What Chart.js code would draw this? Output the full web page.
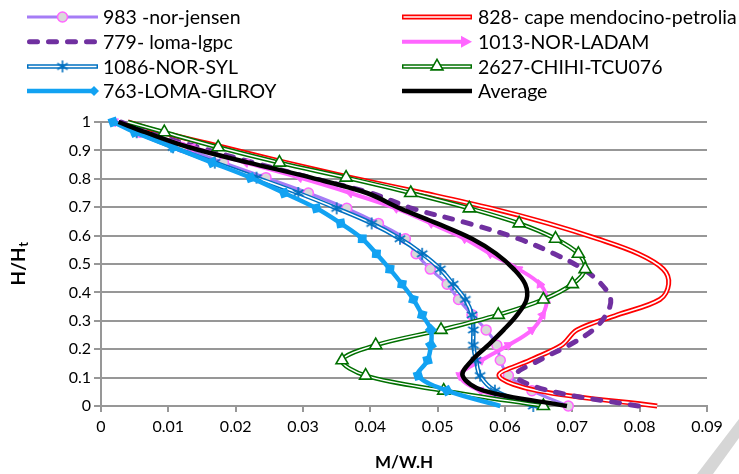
<!DOCTYPE html>
<html>
<head>
<meta charset="utf-8">
<script src="https://cdn.jsdelivr.net/npm/chart.js@4.4.0/dist/chart.umd.min.js"></script>
<style>
  html, body { margin: 0; padding: 0; background: #fff; }
  #chart { display: block; }
</style>
</head>
<body>
<canvas id="chart" width="739" height="474"></canvas>
<script>
// relative height H/Ht of each storey level (y axis)
const heights = [0, 0.054, 0.107, 0.161, 0.214, 0.268, 0.321, 0.375, 0.429, 0.482,
                 0.536, 0.589, 0.643, 0.696, 0.75, 0.804, 0.857, 0.911, 0.964, 1];

// M/W.H for each record, same order as heights
const norJensen983 = [0.0694, 0.0640, 0.0605, 0.0593, 0.0588, 0.0572, 0.0551, 0.0531, 0.0514, 0.0489,
                      0.0468, 0.0452, 0.0412, 0.0365, 0.0308, 0.0245, 0.0182, 0.0120, 0.0058, 0.0020];
const capeMendocino828 = [0.0826, 0.0648, 0.0591, 0.0637, 0.0684, 0.0707, 0.0767, 0.0830, 0.0843, 0.0835,
                          0.0798, 0.0737, 0.0664, 0.0580, 0.0479, 0.0372, 0.0275, 0.0182, 0.0090, 0.0040];
const lomaLgpc779 = [0.0798, 0.0665, 0.0616, 0.0651, 0.0695, 0.0731, 0.0750, 0.0757, 0.0743, 0.0716,
                     0.0673, 0.0620, 0.0546, 0.0462, 0.0401, 0.0311, 0.0226, 0.0145, 0.0068, 0.0030];
const norLadam1013 = [0.0655, 0.0563, 0.0533, 0.0565, 0.0605, 0.0640, 0.0656, 0.0662, 0.0652, 0.0620,
                      0.0578, 0.0540, 0.0490, 0.0438, 0.0370, 0.0295, 0.0215, 0.0135, 0.0062, 0.0020];
const norSyl1086 = [0.0642, 0.0585, 0.0563, 0.0557, 0.0553, 0.0553, 0.0551, 0.0541, 0.0523, 0.0504,
                    0.0477, 0.0444, 0.0402, 0.0350, 0.0293, 0.0231, 0.0169, 0.0107, 0.0053, 0.0020];
const chichiTcu076 = [0.0657, 0.0509, 0.0393, 0.0358, 0.0408, 0.0505, 0.0590, 0.0657, 0.0700, 0.0719,
                      0.0709, 0.0675, 0.0621, 0.0547, 0.0460, 0.0364, 0.0265, 0.0174, 0.0094, 0.0040];
const lomaGilroy763 = [0.0593, 0.0514, 0.0471, 0.0485, 0.0490, 0.0490, 0.0477, 0.0464, 0.0447, 0.0429,
                       0.0409, 0.0388, 0.0356, 0.0320, 0.0272, 0.0222, 0.0165, 0.0107, 0.0050, 0.0018];
const average = [0.0692, 0.0568, 0.0537, 0.0551, 0.0575, 0.0598, 0.0618, 0.0632, 0.0630, 0.0613,
                 0.0587, 0.0551, 0.0499, 0.0444, 0.0395, 0.0312, 0.0219, 0.0131, 0.0066, 0.0026];

const xTicks = [0, 0.01, 0.02, 0.03, 0.04, 0.05, 0.06, 0.07, 0.08, 0.09];
const yTicks = [0, 0.1, 0.2, 0.3, 0.4, 0.5, 0.6, 0.7, 0.8, 0.9, 1];

const FONT = 'Lato';
const GRID = '#979797';
const LAST = heights.length - 1;

function pts(xs) {
  return xs.map((x, i) => ({ x: x, y: heights[i] }));
}

// asterisk marker, used for the NOR-SYL series
function asterisk(r, color) {
  const c = document.createElement('canvas');
  c.width = c.height = r * 2 + 4;
  const g = c.getContext('2d');
  const m = r + 2;
  g.strokeStyle = color;
  g.lineWidth = 1.6;
  g.beginPath();
  g.moveTo(m, m - r); g.lineTo(m, m + r);
  g.moveTo(m - r * 0.87, m - r * 0.5); g.lineTo(m + r * 0.87, m + r * 0.5);
  g.moveTo(m - r * 0.87, m + r * 0.5); g.lineTo(m + r * 0.87, m - r * 0.5);
  g.stroke();
  return c;
}
const starMark = asterisk(6, '#0070C0');

// arrow heads follow the segment that ends at each point
function segAngle(c) {
  const d = c.dataset.data, i = c.dataIndex;
  if (!i || !d[i]) return 0;
  const xs = c.chart.scales.x, ys = c.chart.scales.y;
  const dx = xs.getPixelForValue(d[i].x) - xs.getPixelForValue(d[i - 1].x);
  const dy = ys.getPixelForValue(d[i].y) - ys.getPixelForValue(d[i - 1].y);
  return Math.atan2(dx, -dy) * 180 / Math.PI;
}

const base = { showLine: true, tension: 0.35, clip: false, pointRadius: 0, fill: false };

const datasets = [
  Object.assign({}, base, { label: '983 -nor-jensen', data: pts(norJensen983), order: 80,
    borderColor: '#A57CF6', borderWidth: 3, pointStyle: 'circle',
    pointRadius: c => c.dataIndex === LAST ? 0 : 5,
    pointBackgroundColor: '#D9D9D9', pointBorderColor: '#FF66FF', pointBorderWidth: 1.5 }),
  Object.assign({}, base, { label: '828- cape mendocino-petrolia', data: pts(capeMendocino828), order: 70,
    borderColor: '#FF0000', borderWidth: 5 }),
  Object.assign({}, base, { label: '_828 inner', data: pts(capeMendocino828), order: 69,
    borderColor: '#FFFFFF', borderWidth: 1.6 }),
  Object.assign({}, base, { label: '779- loma-lgpc', data: pts(lomaLgpc779), order: 60,
    borderColor: '#7030A0', borderWidth: 5, borderDash: [8, 11], borderCapStyle: 'round' }),
  Object.assign({}, base, { label: '1013-NOR-LADAM', data: pts(norLadam1013), order: 50,
    borderColor: '#FF66FF', borderWidth: 4, pointStyle: 'triangle',
    pointRadius: c => c.dataIndex === 0 ? 0 : 5, rotation: segAngle,
    pointBackgroundColor: '#FF66FF', pointBorderColor: '#FF66FF', pointBorderWidth: 1 }),
  Object.assign({}, base, { label: '1086-NOR-SYL', data: pts(norSyl1086), order: 40,
    borderColor: '#0070C0', borderWidth: 4.5 }),
  Object.assign({}, base, { label: '_1086 inner', data: pts(norSyl1086), order: 39,
    borderColor: '#FFFFFF', borderWidth: 1.5, pointStyle: starMark,
    pointRadius: c => c.dataIndex === LAST ? 0 : 6 }),
  Object.assign({}, base, { label: '2627-CHIHI-TCU076', data: pts(chichiTcu076), order: 30,
    borderColor: '#007000', borderWidth: 4.5 }),
  Object.assign({}, base, { label: '_2627 inner', data: pts(chichiTcu076), order: 29,
    borderColor: '#FFFFFF', borderWidth: 1.5, pointStyle: 'triangle',
    pointRadius: c => c.dataIndex === LAST ? 0 : 7,
    pointBackgroundColor: '#FFFFFF', pointBorderColor: '#007000', pointBorderWidth: 1.6 }),
  Object.assign({}, base, { label: '763-LOMA-GILROY', data: pts(lomaGilroy763), order: 20,
    borderColor: '#12A2F2', borderWidth: 4.5, pointStyle: 'rectRot',
    pointRadius: c => c.dataIndex === 0 ? 0 : 3, rotation: segAngle,
    pointBackgroundColor: '#12A2F2', pointBorderColor: '#12A2F2' }),
  Object.assign({}, base, { label: 'Average', data: pts(average), order: 10,
    borderColor: '#000000', borderWidth: 4.5 })
];

// legend, two columns in the order of the series
const legendSeries = [
  { text: '983 -nor-jensen', kind: 'jensen' },
  { text: '828- cape mendocino-petrolia', kind: 'red' },
  { text: '779- loma-lgpc', kind: 'dash' },
  { text: '1013-NOR-LADAM', kind: 'arrow' },
  { text: '1086-NOR-SYL', kind: 'syl' },
  { text: '2627-CHIHI-TCU076', kind: 'green' },
  { text: '763-LOMA-GILROY', kind: 'diamond' },
  { text: 'Average', kind: 'avg' }
];

function strokeLine(ctx, x0, x1, y, color, w) {
  ctx.beginPath();
  ctx.moveTo(x0, y); ctx.lineTo(x1, y);
  ctx.strokeStyle = color; ctx.lineWidth = w;
  ctx.stroke();
}

function drawSymbol(ctx, kind, x0, x1, y) {
  const mid = (x0 + x1) / 2;
  ctx.save();
  ctx.lineCap = 'butt';
  if (kind === 'jensen') {
    strokeLine(ctx, x0, x1, y, '#A57CF6', 3);
    ctx.beginPath(); ctx.arc(mid, y, 5, 0, Math.PI * 2);
    ctx.fillStyle = '#D9D9D9'; ctx.fill();
    ctx.strokeStyle = '#FF66FF'; ctx.lineWidth = 1.5; ctx.stroke();
  } else if (kind === 'red') {
    strokeLine(ctx, x0, x1, y, '#FF0000', 5);
    strokeLine(ctx, x0 + 1.5, x1 - 1.5, y, '#FFFFFF', 1.6);
  } else if (kind === 'dash') {
    ctx.lineCap = 'round';
    ctx.setLineDash([8, 11]);
    strokeLine(ctx, x0 + 2.5, x1, y, '#7030A0', 5);
  } else if (kind === 'arrow') {
    strokeLine(ctx, x0, x1 - 8, y, '#FF66FF', 4);
    ctx.beginPath();
    ctx.moveTo(x1, y); ctx.lineTo(x1 - 11, y - 6); ctx.lineTo(x1 - 11, y + 6); ctx.closePath();
    ctx.fillStyle = '#FF66FF'; ctx.fill();
  } else if (kind === 'syl') {
    strokeLine(ctx, x0, x1, y, '#0070C0', 4.5);
    strokeLine(ctx, x0 + 1.5, x1 - 1.5, y, '#FFFFFF', 1.5);
    ctx.drawImage(starMark, mid - starMark.width / 2, y - starMark.height / 2);
  } else if (kind === 'green') {
    strokeLine(ctx, x0, x1, y, '#007000', 4.5);
    strokeLine(ctx, x0 + 1.5, x1 - 1.5, y, '#FFFFFF', 1.5);
    ctx.beginPath();
    ctx.moveTo(mid, y - 7); ctx.lineTo(mid + 6, y + 3.5); ctx.lineTo(mid - 6, y + 3.5); ctx.closePath();
    ctx.fillStyle = '#FFFFFF'; ctx.fill();
    ctx.strokeStyle = '#007000'; ctx.lineWidth = 1.6; ctx.stroke();
  } else if (kind === 'diamond') {
    strokeLine(ctx, x0, x1 - 3, y, '#12A2F2', 4.5);
    ctx.beginPath();
    ctx.moveTo(x1 + 1, y); ctx.lineTo(x1 - 4, y - 5); ctx.lineTo(x1 - 9, y); ctx.lineTo(x1 - 4, y + 5);
    ctx.closePath(); ctx.fillStyle = '#12A2F2'; ctx.fill();
  } else {
    strokeLine(ctx, x0, x1, y, '#000000', 4.5);
  }
  ctx.restore();
}

const legendPlugin = {
  id: 'sketchLegend',
  afterDraw(chart) {
    const ctx = chart.ctx;
    const colX0 = [27, 402], colX1 = [98, 472], colText = [103, 478];
    ctx.save();
    legendSeries.forEach((s, i) => {
      const col = i % 2, row = Math.floor(i / 2);
      const y = 17 + row * 24.7;
      drawSymbol(ctx, s.kind, colX0[col], colX1[col], y);
      ctx.font = '19.5px ' + FONT;
      ctx.fillStyle = '#000';
      ctx.textBaseline = 'middle';
      ctx.textAlign = 'left';
      ctx.fillText(s.text, colText[col], y + 1);
    });
    ctx.restore();
  }
};

// y axis title with subscript t, plus the faint grey mark in the bottom right corner
const yTitlePlugin = {
  id: 'yTitle',
  afterDraw(chart) {
    const ctx = chart.ctx, area = chart.chartArea;
    ctx.save();
    ctx.fillStyle = '#D6D6D6';
    ctx.beginPath();
    ctx.moveTo(697, 474); ctx.lineTo(713, 474); ctx.lineTo(739, 438); ctx.lineTo(739, 419);
    ctx.closePath(); ctx.fill();
    ctx.restore();

    ctx.save();
    ctx.translate(19, (area.top + area.bottom) / 2);
    ctx.rotate(-Math.PI / 2);
    ctx.fillStyle = '#000';
    ctx.textBaseline = 'middle';
    ctx.textAlign = 'left';
    ctx.font = 'bold 19px ' + FONT;
    const w1 = ctx.measureText('H/H').width;
    ctx.font = 'bold 13px ' + FONT;
    const w2 = ctx.measureText('t').width;
    const x = -(w1 + w2) / 2;
    ctx.font = 'bold 19px ' + FONT;
    ctx.fillText('H/H', x, 0);
    ctx.font = 'bold 13px ' + FONT;
    ctx.fillText('t', x + w1 + 0.5, 5);
    ctx.restore();
  }
};

function fmt(v) {
  return String(Number(v.toFixed(2)));
}

new Chart(document.getElementById('chart'), {
  type: 'scatter',
  data: { datasets: datasets },
  options: {
    responsive: false,
    animation: false,
    devicePixelRatio: 1,
    events: [],
    layout: { padding: { top: 122, right: 32, left: 0, bottom: 0 } },
    plugins: {
      legend: { display: false },
      tooltip: { enabled: false }
    },
    scales: {
      x: {
        type: 'linear', min: 0, max: 0.09,
        afterBuildTicks: s => { s.ticks = xTicks.map(v => ({ value: v })); },
        afterFit: s => { s.height = 68; },
        ticks: { callback: fmt, color: '#000', font: { family: FONT, size: 16 }, padding: 5, maxRotation: 0 },
        grid: { drawOnChartArea: false, color: GRID, lineWidth: 2, tickLength: 6 },
        border: { color: GRID, width: 2 },
        title: { display: true, text: 'M/W.H', color: '#000',
                 font: { family: FONT, size: 17, weight: 'bold' }, padding: { top: 0, bottom: 1 } }
      },
      y: {
        type: 'linear', min: 0, max: 1,
        afterBuildTicks: s => { s.ticks = yTicks.map(v => ({ value: v })); },
        afterFit: s => { s.width = 101; },
        ticks: { callback: fmt, color: '#000', font: { family: FONT, size: 16 }, padding: 3 },
        grid: { color: GRID, lineWidth: 2, tickLength: 7 },
        border: { color: GRID, width: 2 }
      }
    }
  },
  plugins: [legendPlugin, yTitlePlugin]
});
</script>
</body>
</html>
